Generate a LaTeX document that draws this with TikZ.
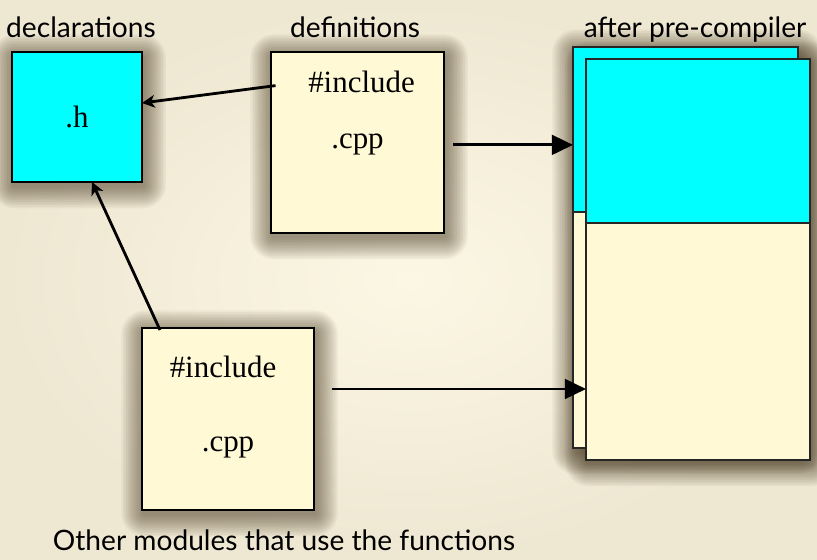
\documentclass[tikz,border=0pt]{standalone}
\usepackage{fontspec}
\setmainfont{Liberation Serif}
\newfontfamily\labelfont{Lato}
\usetikzlibrary{positioning,calc,arrows.meta}
\definecolor{bgcolor}{RGB}{252,247,228}
\definecolor{bgedge}{RGB}{238,231,210}
\definecolor{creamfill}{RGB}{255,249,214}
\definecolor{hcyan}{RGB}{0,255,255}
\definecolor{shadowbrown}{RGB}{60,45,20}
\pgfdeclarelayer{paper}
\pgfdeclarelayer{shade}
\pgfsetlayers{paper,shade,main}
\newcommand{\boxshadow}[1]{%
  \begin{pgfonlayer}{shade}
  \foreach \s in {1,...,14}{%
    \fill[shadowbrown, opacity=0.045, rounded corners=\s*1.2pt]
      ($(#1.south west)+(-\s*0.04+0.04,-\s*0.04-0.1)$) rectangle ($(#1.north east)+(\s*0.04+0.04,\s*0.04-0.12)$);
  }
  \end{pgfonlayer}}

\begin{document}
\begin{tikzpicture}[
    hbox/.style={draw, rectangle, fill=hcyan, line width=1pt, minimum width=3.25cm, minimum height=3.25cm, inner sep=0pt, outer sep=0pt},
    cppbox/.style={draw, rectangle, fill=creamfill, line width=1pt, inner sep=0pt, outer sep=0pt},
    pagebox/.style={draw=black!85, rectangle, line width=0.8pt, inner sep=0pt, outer sep=0pt},
    code/.style={font=\fontsize{22}{26}\selectfont},
    caption/.style={font=\labelfont\fontsize{20}{24}\selectfont, inner sep=0pt},
    link/.style={-{Stealth[length=9pt,width=9pt,inset=2.5pt]}, line width=2pt},
    flow/.style={-{Triangle[length=15pt,width=14pt]}, line width=2pt}
]

% Background
\useasboundingbox (0,0) rectangle (20.425,-14);
\begin{pgfonlayer}{paper}
\shade[inner color=bgcolor, outer color=bgedge] (0,0) rectangle (20.425,-14);
\end{pgfonlayer}

% Declarations
\node[hbox] (h) at (1.925,-2.925) {};
\node[code] (htext) at (h) {.h};
\node[caption, above=0.35cm of h, anchor=base, xshift=0.1cm] (decl) {declarations};
\boxshadow{h}

% Definitions
\node[cppbox, minimum width=4.325cm, minimum height=4.525cm] (def) at (8.9375,-3.5625) {};
\node[code] (definc) at ($(def.north)+(0.1,-0.75)$) {\#include};
\node[code] (defcpp) at ($(def.center)+(0,-0.06)$) {.cpp};
\node[caption, above=0.35cm of def, anchor=base, xshift=-0.06cm] (defl) {definitions};
\boxshadow{def}

% Other modules
\node[cppbox, minimum width=4.3cm, minimum height=4.55cm] (mod) at (5.7,-10.475) {};
\node[code] (modinc) at ($(mod.north)+(-0.125,-0.975)$) {\#include};
\node[code] (modcpp) at ($(mod.center)+(0,-0.725)$) {.cpp};
\node[caption, below=1cm of mod, anchor=base, xshift=1.4cm] (modl) {Other modules that use the functions};
\boxshadow{mod}

% Pre-compiled pages
\node[pagebox, fill=creamfill, minimum width=5.625cm, minimum height=10.025cm, anchor=north west] (back) at (14.325,-1.175) {};
\node[pagebox, fill=hcyan, minimum width=5.625cm, minimum height=4.125cm, anchor=north] (backtop) at (back.north) {};
\node[pagebox, fill=creamfill, minimum width=5.6cm, minimum height=10.025cm, anchor=north west] (front) at (14.65,-1.475) {};
\node[pagebox, fill=hcyan, minimum width=5.6cm, minimum height=4.1cm, anchor=north] (fronttop) at (front.north) {};
\node[caption, above=0.25cm of back, anchor=base, xshift=0.24cm] (stackl) {after pre-compiler};
\boxshadow{back}
\boxshadow{front}

% Connections
\draw[link, shorten <=0.7cm] (definc.west) -- ([yshift=0.35cm]h.east);
\draw[link] ([xshift=0.45cm,yshift=-0.05cm]mod.north west) -- ([xshift=0.375cm]h.south);
\draw[flow, shorten <=0.225cm] (def.east |- defcpp) -- (back.west |- defcpp);
\draw[flow, shorten <=0.45cm] ($(mod.east)+(0,0.75)$) -- ($(mod.east -| front.west)+(0,0.75)$);

\end{tikzpicture}
\end{document}
